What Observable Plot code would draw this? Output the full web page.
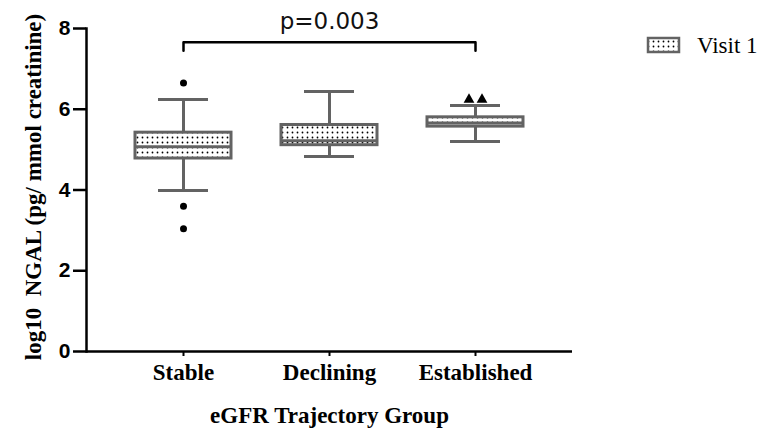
<!DOCTYPE html>
<html>
<head>
<meta charset="utf-8">
<script src="https://cdn.jsdelivr.net/npm/d3@7"></script>
<script src="https://cdn.jsdelivr.net/npm/@observablehq/plot@0.6"></script>
<style>
  body { margin: 0; background: #fff; }
  #chart { position: relative; width: 767px; height: 434px; overflow: hidden; }
  #legend { position: absolute; left: 646px; top: 34px; overflow: visible; }
</style>
</head>
<body>
<div id="chart">
  <svg id="legend" width="118" height="30">
    <defs>
      <pattern id="dots" width="5" height="5" patternUnits="userSpaceOnUse">
        <rect width="5" height="5" fill="#fff"></rect>
        <circle cx="2.5" cy="2.5" r="0.9" fill="#000"></circle>
      </pattern>
    </defs>
  </svg>
</div>
<script>
// Box-plot summary per eGFR trajectory group (log10 NGAL, pg/mmol creatinine)
const groups = ["Stable", "Declining", "Established"];
const whiskerLow = [3.99, 4.83, 5.20];
const q1 = [4.78, 5.11, 5.57];
const median = [5.07, 5.22, 5.66];
const q3 = [5.42, 5.61, 5.80];
const whiskerHigh = [6.24, 6.44, 6.09];

// Individual points outside the whiskers
const circleGroup = ["Stable", "Stable", "Stable"];
const circleValue = [6.65, 3.60, 3.04];
const triangleGroup = ["Established", "Established"];
const triangleValue = [6.24, 6.24];

// Significance bracket between Stable and Established
const bracketGroups = ["Stable", "Established"];
const bracketTop = 7.66;
const bracketFoot = 7.45;
const pLabel = "p=0.003";

const yTicks = [0, 2, 4, 6, 8];
const yLabel = "log10\u00a0\u00a0NGAL (pg/ mmol creatinine)";
const xLabel = "eGFR Trajectory Group";
const seriesName = "Visit 1";

const boxes = groups.map((g, i) => ({
  group: g, lo: whiskerLow[i], q1: q1[i], med: median[i], q3: q3[i], hi: whiskerHigh[i]
}));
const circles = circleGroup.map((g, i) => ({group: g, value: circleValue[i]}));
const triangles = triangleGroup.map((g, i) => ({group: g, value: triangleValue[i]}));
const bracket = [
  {group: bracketGroups[0], y: bracketFoot},
  {group: bracketGroups[0], y: bracketTop},
  {group: bracketGroups[1], y: bracketTop},
  {group: bracketGroups[1], y: bracketFoot}
];

const gray = "#636363";
const serif = "'Liberation Serif', 'Times New Roman', serif";

const chart = Plot.plot({
  width: 767,
  height: 434,
  marginLeft: 86,
  marginRight: 195,
  marginTop: 28,
  marginBottom: 83,
  style: {background: "white", overflow: "visible"},
  x: {type: "band", domain: groups, paddingInner: 0.342, paddingOuter: 0.335, align: 0.5},
  y: {domain: [0, 8]},
  marks: [
    // whiskers
    Plot.ruleX(boxes, {x: "group", y1: "lo", y2: "q1", stroke: gray, strokeWidth: 3}),
    Plot.ruleX(boxes, {x: "group", y1: "q3", y2: "hi", stroke: gray, strokeWidth: 3}),
    Plot.tickY(boxes, {x: "group", y: "lo", stroke: gray, strokeWidth: 3, insetLeft: 23, insetRight: 23}),
    Plot.tickY(boxes, {x: "group", y: "hi", stroke: gray, strokeWidth: 3, insetLeft: 23, insetRight: 23}),
    // boxes and medians
    Plot.barY(boxes, {x: "group", y1: "q1", y2: "q3", fill: "url(#dots)", stroke: gray, strokeWidth: 3}),
    Plot.tickY(boxes, {x: "group", y: "med", stroke: gray, strokeWidth: 3}),
    // outliers
    Plot.dot(circles, {x: "group", y: "value", r: 3.5, fill: "black", stroke: "none"}),
    Plot.dot(triangles.slice(0, 1), {x: "group", y: "value", symbol: "triangle", r: 4, fill: "black", stroke: "none", dx: -6.5}),
    Plot.dot(triangles.slice(1), {x: "group", y: "value", symbol: "triangle", r: 4, fill: "black", stroke: "none", dx: 6.5}),
    // significance bracket
    Plot.line(bracket, {x: "group", y: "y", stroke: "black", strokeWidth: 2.5}),
    Plot.text([pLabel], {frameAnchor: "top", lineAnchor: "middle", dy: -7, fontSize: 23,
      fontFamily: "'DejaVu Sans', sans-serif", fill: "#111"}),
    // axes
    Plot.axisY({ticks: yTicks, tickSize: 13, tickPadding: 3, fontSize: 21, fontWeight: "bold",
      fontFamily: "'Liberation Sans', Arial, sans-serif", strokeWidth: 2.5, label: null}),
    Plot.frame({anchor: "left", stroke: "black", strokeWidth: 2.5}),
    Plot.ruleY([0], {stroke: "black", strokeWidth: 2.5}),
    Plot.axisX({tickSize: 5, tickPadding: 7, fontSize: 23, fontWeight: "bold", fontFamily: serif,
      strokeWidth: 2, label: null}),
    Plot.text([yLabel], {frameAnchor: "left", textAnchor: "middle", lineAnchor: "middle", rotate: -90,
      dx: -53, dy: -3, fontSize: 23, fontWeight: "bold", fontFamily: serif, fill: "black"}),
    Plot.text([xLabel], {frameAnchor: "bottom", lineAnchor: "middle", dy: 64, fontSize: 23, fontWeight: "bold",
      fontFamily: serif, fill: "black"})
  ]
});
document.getElementById("chart").prepend(chart);

// Series legend
const legend = d3.select("#legend");
legend.append("rect").attr("x", 2).attr("y", 4).attr("width", 31).attr("height", 14)
  .attr("fill", "url(#dots)").attr("stroke", gray).attr("stroke-width", 2.5);
legend.append("text").attr("x", 51).attr("y", 19).attr("font-family", serif)
  .attr("font-size", 23).attr("fill", "black").text(seriesName);
</script>
</body>
</html>
